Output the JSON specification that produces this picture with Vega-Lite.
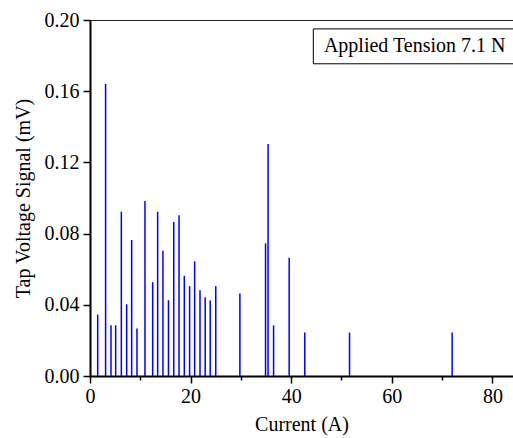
{
  "$schema": "https://vega.github.io/schema/vega-lite/v6.json",
  "width": 423,
  "height": 356,
  "autosize": {"type": "none"},
  "padding": {"left": 90, "top": 20, "right": 0, "bottom": 62},
  "background": "white",
  "config": {
    "view": {"stroke": "#222", "strokeWidth": 1},
    "font": "Liberation Serif",
    "axis": {
      "labelFont": "Liberation Serif",
      "titleFont": "Liberation Serif",
      "labelFontSize": 20,
      "titleFontSize": 20,
      "titleFontWeight": "normal",
      "labelColor": "black",
      "titleColor": "black",
      "domainColor": "black",
      "domainWidth": 2,
      "tickColor": "black",
      "tickWidth": 1.5,
      "grid": false
    }
  },
  "datasets": {
    "spikes": [
      {"current": 1.53, "signal": 0.0345},
      {"current": 3.1, "signal": 0.164},
      {"current": 4.17, "signal": 0.0285},
      {"current": 5.1, "signal": 0.0285},
      {"current": 6.23, "signal": 0.0923},
      {"current": 7.29, "signal": 0.0403},
      {"current": 8.28, "signal": 0.0764},
      {"current": 9.34, "signal": 0.0267},
      {"current": 10.93, "signal": 0.0983},
      {"current": 12.46, "signal": 0.0527},
      {"current": 13.45, "signal": 0.0923},
      {"current": 14.5, "signal": 0.0703},
      {"current": 15.6, "signal": 0.0426},
      {"current": 16.65, "signal": 0.0865},
      {"current": 17.7, "signal": 0.0903},
      {"current": 18.75, "signal": 0.0563},
      {"current": 19.8, "signal": 0.0505},
      {"current": 20.8, "signal": 0.0644},
      {"current": 21.87, "signal": 0.0482},
      {"current": 22.9, "signal": 0.0443},
      {"current": 23.9, "signal": 0.0424},
      {"current": 25.0, "signal": 0.0505},
      {"current": 29.8, "signal": 0.0464},
      {"current": 34.9, "signal": 0.0745},
      {"current": 35.4, "signal": 0.1304},
      {"current": 36.5, "signal": 0.0285},
      {"current": 39.6, "signal": 0.0664},
      {"current": 42.7, "signal": 0.0244},
      {"current": 51.6, "signal": 0.0244},
      {"current": 72.0, "signal": 0.0244}
    ],
    "note": [{"label": "Applied Tension 7.1 N"}]
  },
  "layer": [
    {
      "data": {"name": "spikes"},
      "mark": {"type": "rule", "color": "#0000ff", "strokeWidth": 1.5},
      "encoding": {
        "x": {
          "field": "current",
          "type": "quantitative",
          "scale": {"domain": [0, 84.1], "nice": false, "zero": false},
          "axis": {
            "title": "Current (A)",
            "values": [0, 10, 20, 30, 40, 50, 60, 70, 80],
            "labelExpr": "datum.value % 20 == 0 ? datum.label : ''",
            "tickSize": {"condition": {"test": "datum.value % 20 != 0", "value": 4}, "value": 7},
            "labelPadding": 3,
            "titlePadding": 8,
            "labelFlush": false
          }
        },
        "y": {
          "field": "signal",
          "type": "quantitative",
          "scale": {"domain": [0, 0.2], "nice": false},
          "axis": {
            "title": "Tap Voltage Signal (mV)",
            "values": [0, 0.02, 0.04, 0.06, 0.08, 0.1, 0.12, 0.14, 0.16, 0.18, 0.2],
            "labelExpr": "round(datum.value * 100) % 4 == 0 ? format(datum.value, '.2f') : ''",
            "tickSize": {"condition": {"test": "round(datum.value * 100) % 4 != 0", "value": 4}, "value": 7},
            "labelPadding": 4,
            "titlePadding": 11,
            "labelFlush": false
          }
        },
        "y2": {"datum": 0}
      }
    },
    {
      "data": {"name": "note"},
      "mark": {"type": "rect", "fill": "white", "stroke": "black", "strokeWidth": 1},
      "encoding": {
        "x": {"datum": 44.4, "type": "quantitative"},
        "x2": {"datum": 90},
        "y": {"datum": 0.195, "type": "quantitative"},
        "y2": {"datum": 0.1754}
      }
    },
    {
      "data": {"name": "note"},
      "mark": {"type": "text", "align": "left", "baseline": "middle", "font": "Liberation Serif", "fontSize": 20, "fill": "black"},
      "encoding": {
        "x": {"datum": 46.5, "type": "quantitative"},
        "y": {"datum": 0.1853, "type": "quantitative"},
        "text": {"field": "label"}
      }
    }
  ]
}
